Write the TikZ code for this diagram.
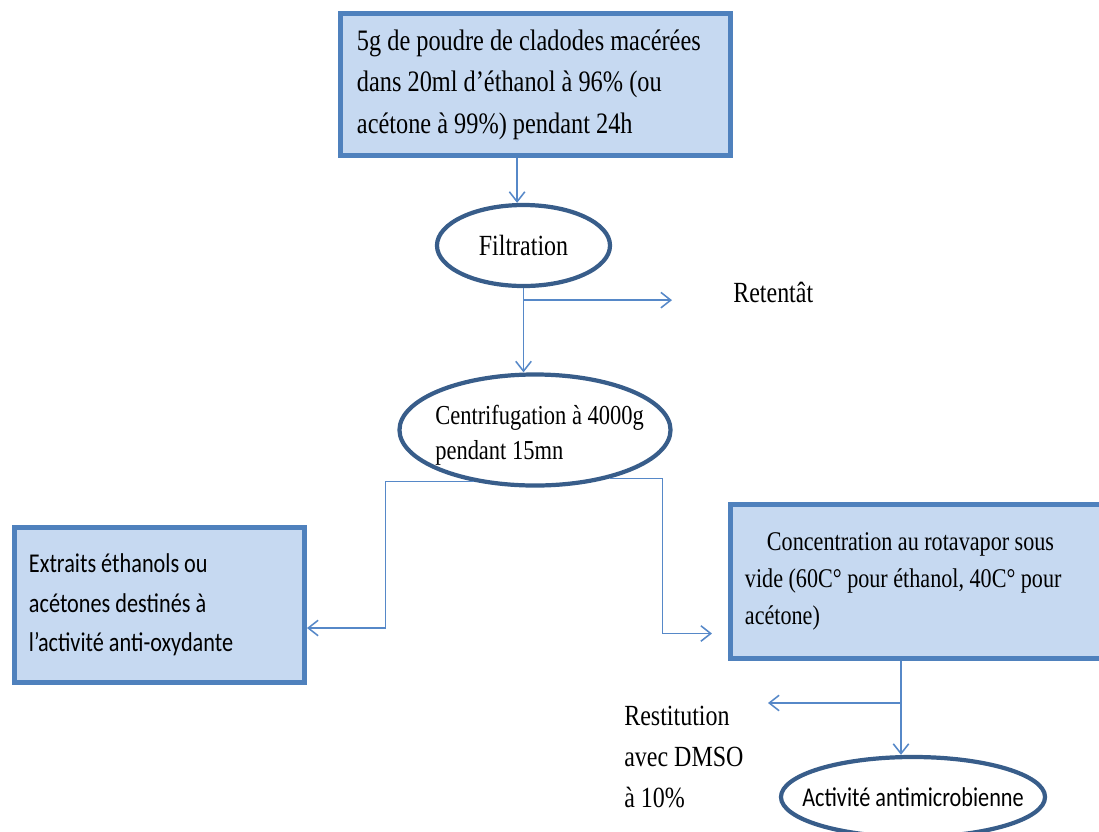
\documentclass[tikz,border=0pt]{standalone}
\usepackage{fontspec}
\setmainfont{Liberation Serif}[FakeStretch=0.82]
\newfontfamily\calibri{Carlito}[FakeStretch=0.82]
\usetikzlibrary{shapes.geometric,arrows.meta,positioning}

\definecolor{boxblue}{RGB}{79,129,189}
\definecolor{boxfill}{RGB}{198,217,241}
\definecolor{ovalblue}{RGB}{56,93,138}
\definecolor{linkblue}{RGB}{86,136,200}

\tikzset{
  stepbox/.style={rectangle, draw=boxblue, fill=boxfill, line width=3.5pt, align=flush left, inner xsep=0.3625cm},
  oval/.style={ellipse, draw=ovalblue, fill=white, line width=3pt},
  flow/.style={draw=linkblue, line width=1.1pt, -{Straight Barb[length=7pt,width=11pt]}},
}

\begin{document}
\begin{tikzpicture}[x=0.025cm, y=-0.025cm]
    \useasboundingbox (0,0) rectangle (1099,831);
    \clip (0,0) rectangle (1099,831);

    % steps
    \node[stepbox, minimum width=9.75cm, minimum height=3.55cm, text width=8.925cm, inner xsep=0.4125cm,
          font=\fontsize{21.1}{29.5}\selectfont] (maceration) at (535.5,84.5)
          {5g de poudre de cladodes macérées\\dans 20ml d’éthanol à 96\% (ou\\acétone à 99\%) pendant 24h};
    \node[oval, minimum width=4.325cm, minimum height=2.025cm, font=\fontsize{20.8}{24}\selectfont] (filtration) at (523.5,245.5) {Filtration};
    \node[anchor=west, inner sep=0pt, font=\fontsize{20.8}{24}\selectfont] (retentat) at (733,292) {Retentât};

    \node[oval, minimum width=6.775cm, minimum height=2.775cm] (centri) at (535,430) {};
    \node[anchor=west, align=left, inner sep=0pt, font=\fontsize{19.5}{25}\selectfont] (centritxt) at (435,435)
          {Centrifugation à 4000g\\pendant 15mn};

    \node[stepbox, minimum width=7.25cm, minimum height=3.875cm, text width=6.525cm,
          font=\calibri\fontsize{19.3}{28}\selectfont] (extraits) at (159.5,605)
          {Extraits éthanols ou\\acétones destinés à\\l’activité anti-oxydante};
    \node[stepbox, minimum width=10cm, minimum height=3.85cm, text width=9.275cm,
          font=\fontsize{19.2}{26.2}\selectfont] (rotavap) at (930.5,581.5)
          {\hspace*{0.55cm}Concentration au rotavapor sous\\vide (60C° pour éthanol, 40C° pour\\acétone)};

    \node[oval, minimum width=6.6cm, minimum height=2cm] (antimicro) at (913,797) {};
    \node[inner sep=0pt, font=\calibri\fontsize{19.3}{22}\selectfont] (antimicrotxt) at (antimicro) {Activité antimicrobienne};
    \node[anchor=west, align=left, inner sep=0pt, font=\fontsize{20.8}{29}\selectfont] (restitution) at (624,757)
          {Restitution\\avec DMSO\\à 10\%};

    % links
    \coordinate (fork1) at ([yshift=-0.3cm]filtration.south);
    \coordinate (retend) at (672,300);
    \coordinate (fork2) at ([xshift=-0.3cm,yshift=-1.05cm]rotavap.south -| antimicro.north);
    \coordinate (restend) at (768,702);

    \draw[flow] ([xshift=-0.16cm]maceration.south -| filtration.north) -- ([xshift=-0.16cm]filtration.north);
    \draw[flow] (filtration.south) -- (filtration.south |- centri.north);
    \draw[flow] (fork1) -- (fork1 -| retend);
    \draw[flow] (centri.220) -- ++(-88,0) |- ([yshift=-0.575cm]extraits.east);
    \draw[flow, shorten >=0.4cm] (centri.-33) -- ++(53,0) |- ([yshift=-1.3cm]rotavap.west);
    \draw[flow] ([xshift=-0.3cm]rotavap.south -| antimicro.north) -- ([xshift=-0.3cm]antimicro.north);
    \draw[flow] (fork2) -- (fork2 -| restend);
\end{tikzpicture}
\end{document}
